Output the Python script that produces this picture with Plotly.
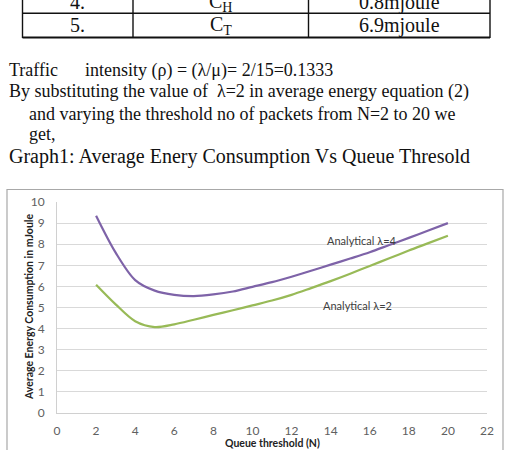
import plotly.graph_objects as go

# ---- data ----
queue_threshold = [2, 3, 4, 5, 6, 7, 8, 9, 10, 11, 12, 13, 14, 15, 16, 17, 18, 19, 20]
energy_lambda4 = [9.35, 7.6, 6.3, 5.8, 5.6, 5.54, 5.62, 5.76, 5.98, 6.2, 6.46, 6.74, 7.03,
                  7.32, 7.62, 7.96, 8.3, 8.65, 9.0]
energy_lambda2 = [6.08, 5.15, 4.35, 4.07, 4.2, 4.42, 4.65, 4.87, 5.1, 5.33, 5.6, 5.92, 6.25,
                  6.6, 6.97, 7.33, 7.7, 8.05, 8.4]
x_ticks = list(range(0, 23, 2))
y_ticks = list(range(0, 11, 1))

table_rows = [["4.", "C<sub>H</sub>", "0.8mjoule"], ["5.", "C<sub>T</sub>", "6.9mjoule"]]

# ---- geometry (pixels) ----
W_PX, H_PX = 506, 450
L, R, T, B = 57, 487, 202, 413
PW, PH = R - L, B - T


def px(x):
    return (x - L) / PW


def py(y):
    return (B - y) / PH


fig = go.Figure()
fig.add_trace(go.Scatter(x=queue_threshold, y=energy_lambda4, mode="lines",
                         line=dict(color="#7E63A8", width=2.2, shape="spline", smoothing=0.9),
                         name="Analytical λ=4", showlegend=False, hoverinfo="skip"))
fig.add_trace(go.Scatter(x=queue_threshold, y=energy_lambda2, mode="lines",
                         line=dict(color="#98BA57", width=2.2, shape="spline", smoothing=0.9),
                         name="Analytical λ=2", showlegend=False, hoverinfo="skip"))

tick_font = dict(family="Lato, Open Sans, sans-serif", size=12, color="#606060")
fig.update_layout(
    width=W_PX, height=H_PX,
    margin=dict(l=L, r=W_PX - R, t=T, b=H_PX - B, pad=0),
    paper_bgcolor="white", plot_bgcolor="white",
    xaxis=dict(range=[0, 22], tickvals=x_ticks, showgrid=False, zeroline=False,
               showline=True, linecolor="#D0D0D0", linewidth=1, ticks="",
               tickfont=tick_font, ticklabelstandoff=7, fixedrange=True),
    yaxis=dict(range=[0, 10], tickvals=y_ticks, showgrid=True, gridcolor="#D9D9D9", gridwidth=1,
               zeroline=False, showline=True, linecolor="#D0D0D0", linewidth=1, ticks="",
               tickfont=tick_font, ticklabelstandoff=9, fixedrange=True),
    showlegend=False,
)

shapes = []
# chart border
shapes.append(dict(type="rect", xref="paper", yref="paper",
                   x0=px(7), x1=px(503), y0=py(460), y1=py(189.5),
                   line=dict(color="#A8A8A8", width=1.2), fillcolor="rgba(0,0,0,0)", layer="below"))
# table lines
tbl_left, tbl_c1, tbl_c2, tbl_right = 22.5, 133, 308.5, 490
for yy, w in [(13.3, 1.4), (37.5, 2)]:
    shapes.append(dict(type="line", xref="paper", yref="paper", x0=px(tbl_left), x1=px(tbl_right),
                       y0=py(yy), y1=py(yy), line=dict(color="#111111", width=w)))
for xx in [tbl_left, tbl_c1, tbl_c2, tbl_right]:
    shapes.append(dict(type="line", xref="paper", yref="paper", x0=px(xx), x1=px(xx),
                       y0=py(-5), y1=py(38), line=dict(color="#111111", width=1.4)))
fig.update_layout(shapes=shapes)

serif = "Liberation Serif, Times New Roman, serif"
ann = []
col_centers = [(tbl_left + tbl_c1) / 2, (tbl_c1 + tbl_c2) / 2, (tbl_c2 + tbl_right) / 2]
row_centers = [2, 25]
for r, row in enumerate(table_rows):
    for c, txt in enumerate(row):
        ann.append(dict(x=px(col_centers[c]), y=py(row_centers[r]), xref="paper", yref="paper",
                        text=txt, showarrow=False, xanchor="center", yanchor="middle",
                        font=dict(family=serif, size=20, color="#111111")))

body = [
    (7, 70, "Traffic", 18),
    (83, 70, "intensity (ρ) = (λ/μ)= 2/15=0.1333", 18),
    (7, 92, "By substituting the value of  λ=2 in average energy equation (2)", 18),
    (27, 113.5, "and varying the threshold no of packets from N=2 to 20 we", 18),
    (27, 134, "get,", 18),
    (7, 157, "Graph1: Average Enery Consumption Vs Queue Thresold", 20),
]
for x0, y0, txt, sz in body:
    ann.append(dict(x=px(x0), y=py(y0), xref="paper", yref="paper", text=txt, showarrow=False,
                    xanchor="left", yanchor="middle", font=dict(family=serif, size=sz, color="#111111")))

# series labels
ann.append(dict(x=15.6, y=8.18, xref="x", yref="y", text="Analytical λ=4", showarrow=False,
                font=dict(family="Lato, Open Sans, sans-serif", size=11, color="#404040")))
ann.append(dict(x=15.35, y=5.1, xref="x", yref="y", text="Analytical λ=2", showarrow=False,
                font=dict(family="Lato, Open Sans, sans-serif", size=11, color="#404040")))

# axis titles
ann.append(dict(x=px(29), y=py(307), xref="paper", yref="paper",
                text="<b>Average Energy Consumption in mJoule</b>", showarrow=False, textangle=-90,
                xanchor="center", yanchor="middle",
                font=dict(family="Lato, Open Sans, sans-serif", size=10.5, color="#222222")))
ann.append(dict(x=px(272), y=py(443), xref="paper", yref="paper",
                text="<b>Queue threshold (N)</b>", showarrow=False,
                xanchor="center", yanchor="middle",
                font=dict(family="Lato, Open Sans, sans-serif", size=10.5, color="#222222")))
fig.update_layout(annotations=ann)

fig.write_html("out.html")
